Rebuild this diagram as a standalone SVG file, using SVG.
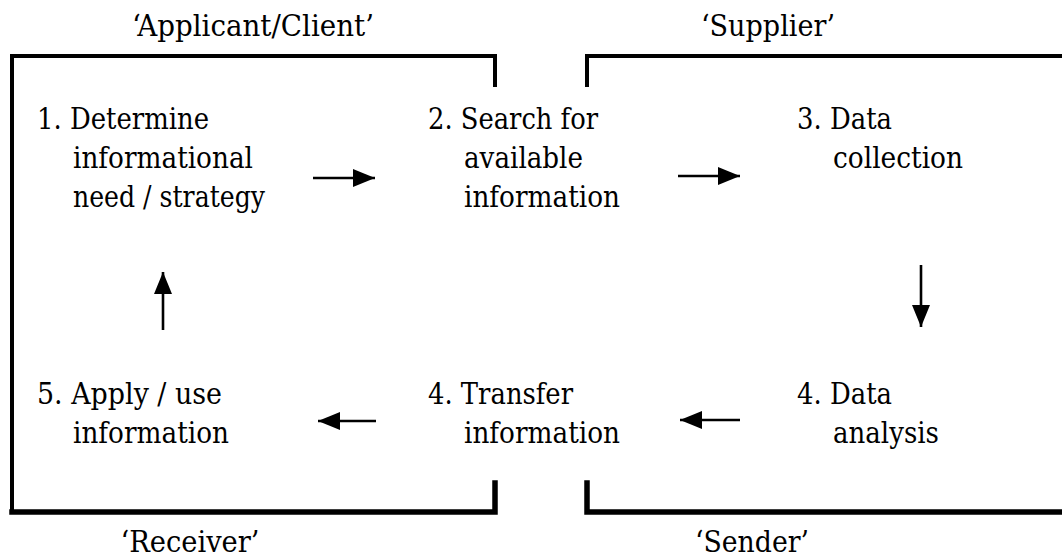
<svg xmlns="http://www.w3.org/2000/svg" width="1062" height="558" viewBox="0 0 1062 558">
<style>
text{font-family:"DejaVu Serif",serif;font-size:30px;fill:#000}
.lbl{text-anchor:middle}
.frame{fill:none;stroke:#000;stroke-linejoin:miter;stroke-linecap:square}
.arr{stroke:#000;stroke-width:2.6;fill:none;marker-end:url(#ah)}
</style>
<defs>
<marker id="ah" markerUnits="userSpaceOnUse" markerWidth="24" markerHeight="20" refX="22" refY="9" orient="auto">
<path d="M0,0 L22,9 L0,18 Z" fill="#000"/>
</marker>
</defs>
<g id="frames">
<path class="frame" d="M495,85 V56 H12 V512" stroke-width="4"/>
<path class="frame" d="M12,512 H495 V483" stroke-width="5.5"/>
<path class="frame" d="M587,85 V56 H1070" stroke-width="4"/>
<path class="frame" d="M587,483 V512 H1070" stroke-width="5.5"/>
</g>
<g id="labels">
<text class="lbl" x="253" y="36" textLength="242" lengthAdjust="spacingAndGlyphs">‘Applicant/Client’</text>
<text class="lbl" x="768" y="36" textLength="134" lengthAdjust="spacingAndGlyphs">‘Supplier’</text>
<text class="lbl" x="190" y="552" textLength="139" lengthAdjust="spacingAndGlyphs">‘Receiver’</text>
<text class="lbl" x="752" y="552" textLength="114" lengthAdjust="spacingAndGlyphs">‘Sender’</text>
</g>
<g id="n1">
<text x="37" y="129" textLength="172" lengthAdjust="spacingAndGlyphs">1. Determine</text>
<text x="73" y="168" textLength="180" lengthAdjust="spacingAndGlyphs">informational</text>
<text x="73" y="207" textLength="192" lengthAdjust="spacingAndGlyphs">need / strategy</text>
</g>
<g id="n2">
<text x="428" y="129" textLength="170" lengthAdjust="spacingAndGlyphs">2. Search for</text>
<text x="464" y="168" textLength="119" lengthAdjust="spacingAndGlyphs">available</text>
<text x="464" y="207" textLength="156" lengthAdjust="spacingAndGlyphs">information</text>
</g>
<g id="n3">
<text x="797" y="129" textLength="95" lengthAdjust="spacingAndGlyphs">3. Data</text>
<text x="833" y="168" textLength="130" lengthAdjust="spacingAndGlyphs">collection</text>
</g>
<g id="n4a">
<text x="797" y="404" textLength="95" lengthAdjust="spacingAndGlyphs">4. Data</text>
<text x="833" y="443" textLength="106" lengthAdjust="spacingAndGlyphs">analysis</text>
</g>
<g id="n4t">
<text x="428" y="404" textLength="145" lengthAdjust="spacingAndGlyphs">4. Transfer</text>
<text x="464" y="443" textLength="156" lengthAdjust="spacingAndGlyphs">information</text>
</g>
<g id="n5">
<text x="37" y="404" textLength="185" lengthAdjust="spacingAndGlyphs">5. Apply / use</text>
<text x="73" y="443" textLength="156" lengthAdjust="spacingAndGlyphs">information</text>
</g>
<g id="connectors">
<line class="arr" x1="313" y1="178" x2="375" y2="178"/>
<line class="arr" x1="678" y1="176" x2="740" y2="176"/>
<line class="arr" x1="921" y1="265" x2="921" y2="327"/>
<line class="arr" x1="740" y1="420" x2="680" y2="420"/>
<line class="arr" x1="376" y1="421" x2="318" y2="421"/>
<line class="arr" x1="163" y1="330" x2="163" y2="272"/>
</g>
</svg>
